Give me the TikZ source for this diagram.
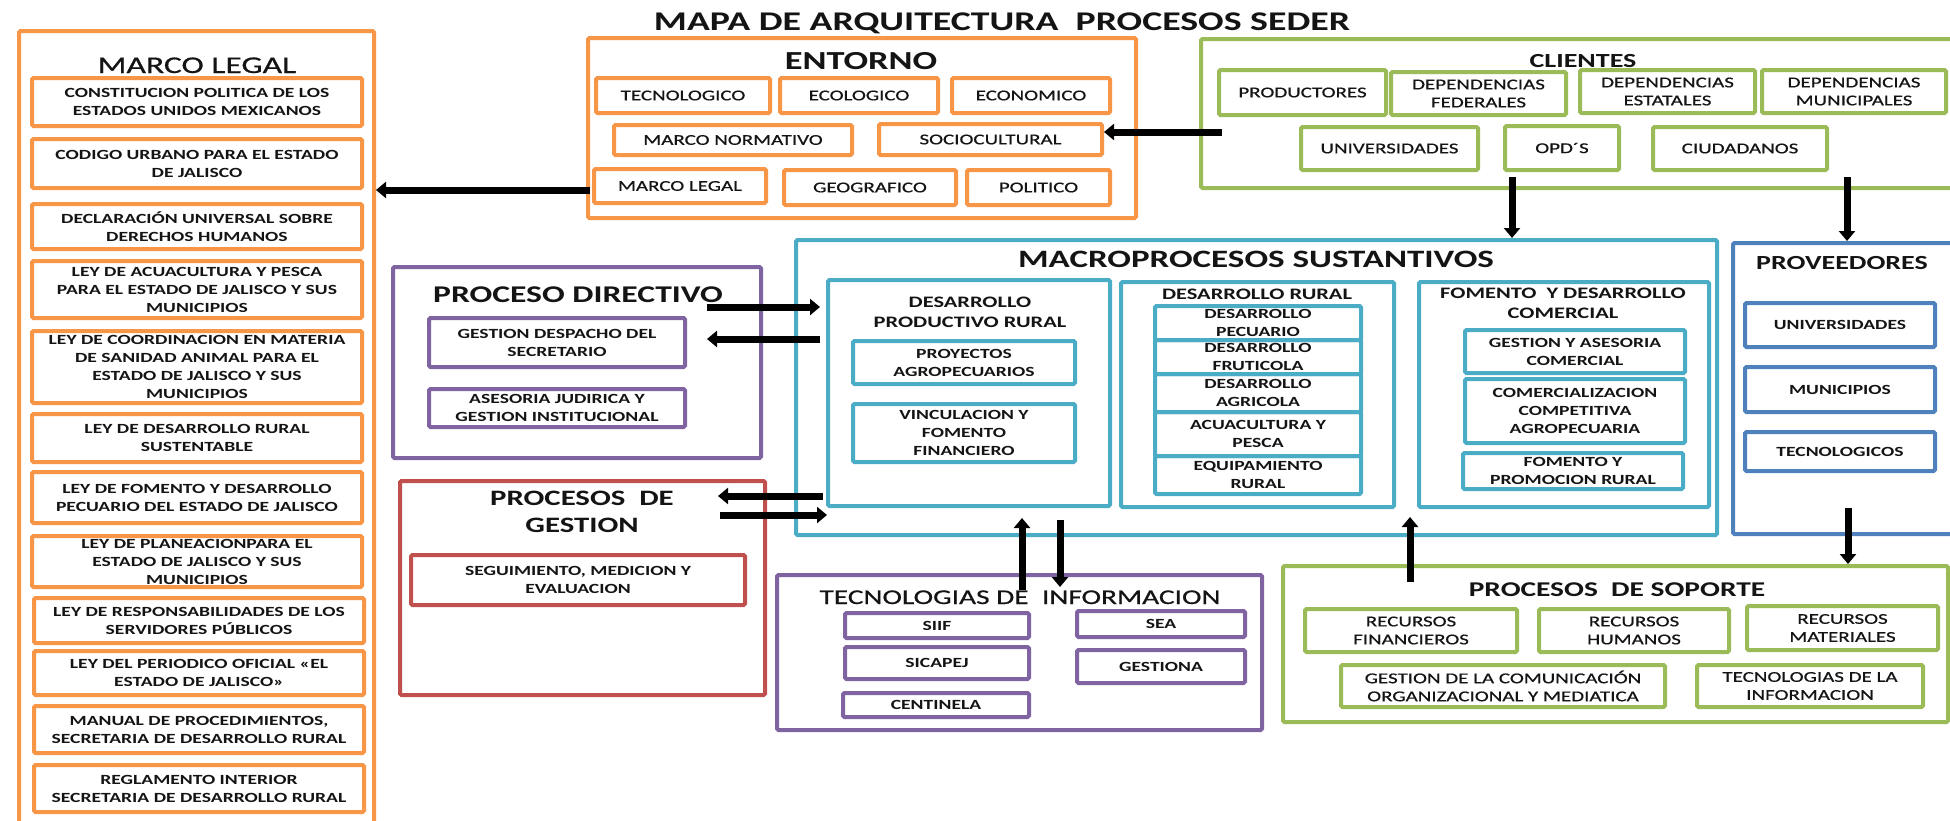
\documentclass[tikz,border=0pt]{standalone}
\usepackage{fontspec}
\setmainfont{Carlito}[FakeStretch=1.4]
\newfontfamily\medf{Carlito}[FakeStretch=1.4,FakeBold=0.6]
\usetikzlibrary{arrows.meta}
\definecolor{cOr}{HTML}{F79646}
\definecolor{cGr}{HTML}{9BBB59}
\definecolor{cTe}{HTML}{4BACC6}
\definecolor{cPu}{HTML}{8064A2}
\definecolor{cRe}{HTML}{C0504D}
\definecolor{cBl}{HTML}{4F81BD}
\definecolor{cTx}{HTML}{141414}
\newcommand\bx[7]{\node[#2, minimum width={#5-#3}, minimum height={#6-#4}] (#1) at ({(#3+#5)/2},{(#4+#6)/2}) {#7};}
\tikzset{
  box/.style={draw=#1, line width=4pt, inner sep=0pt, align=center, rounded corners=1.5pt, text=cTx, font=\medf\fontsize{15}{18}\selectfont},
  boxb/.style={box=#1, font=\fontsize{14}{18}\selectfont\bfseries},
  cont/.style={draw=#1, line width=4pt, inner sep=0pt, rounded corners=1.5pt},
  ttl/.style={inner sep=0pt, align=center, text=cTx},
  arr/.style={line width=7pt, draw=black, -{Triangle[length=10pt,width=16pt]}},
}
\begin{document}
\begin{tikzpicture}[x=1pt,y=-1pt]
\fill[white] (0,0) rectangle (1950,820);
\useasboundingbox (0,0) rectangle (1950,820);

% title
\node[ttl, font=\fontsize{27}{32}\selectfont\bfseries, anchor=base] (title) at (1002,30) {MAPA DE ARQUITECTURA\ \ PROCESOS SEDER};

% MARCO LEGAL
\bx{mlbox}{cont=cOr}{19}{31}{374}{840}{}
\node[ttl, font=\medf\fontsize{24}{28}\selectfont, anchor=base] (mlt) at (197,73) {MARCO LEGAL};
\bx{ml1}{boxb=cOr}{32}{78}{362}{126}{CONSTITUCION POLITICA DE LOS\\ESTADOS UNIDOS MEXICANOS}
\bx{ml2}{boxb=cOr}{32}{139}{362}{188}{CODIGO URBANO PARA EL ESTADO\\DE JALISCO}
\bx{ml3}{boxb=cOr}{32}{204}{362}{249}{DECLARACIÓN UNIVERSAL SOBRE\\DERECHOS HUMANOS}
\bx{ml4}{boxb=cOr}{32}{261}{362}{318}{LEY DE ACUACULTURA Y PESCA\\PARA EL ESTADO DE JALISCO Y SUS\\MUNICIPIOS}
\bx{ml5}{boxb=cOr}{32}{331}{362}{403}{LEY DE COORDINACION EN MATERIA\\DE SANIDAD ANIMAL PARA EL\\ESTADO DE JALISCO Y SUS\\MUNICIPIOS}
\bx{ml6}{boxb=cOr}{32}{414}{362}{462}{LEY DE DESARROLLO RURAL\\SUSTENTABLE}
\bx{ml7}{boxb=cOr}{32}{472}{362}{523}{LEY DE FOMENTO Y DESARROLLO\\PECUARIO DEL ESTADO DE JALISCO}
\bx{ml8}{boxb=cOr}{32}{536}{362}{587}{LEY DE PLANEACIONPARA EL\\ESTADO DE JALISCO Y SUS\\MUNICIPIOS}
\bx{ml9}{boxb=cOr}{34}{598}{364}{643}{LEY DE RESPONSABILIDADES DE LOS\\SERVIDORES PÚBLICOS}
\bx{ml10}{boxb=cOr}{34}{651}{364}{695}{LEY DEL PERIODICO OFICIAL «EL\\ESTADO DE JALISCO»}
\bx{ml11}{boxb=cOr}{34}{706}{364}{753}{MANUAL DE PROCEDIMIENTOS,\\SECRETARIA DE DESARROLLO RURAL}
\bx{ml12}{boxb=cOr}{34}{765}{364}{812}{REGLAMENTO INTERIOR\\SECRETARIA DE DESARROLLO RURAL}

% ENTORNO
\bx{ent}{cont=cOr}{588}{38}{1136}{218}{}
\node[ttl, font=\fontsize{26}{30}\selectfont\bfseries, anchor=base] (entt) at (861,69) {ENTORNO};
\bx{etec}{box=cOr}{596}{78}{770}{113}{TECNOLOGICO}
\bx{eeco}{box=cOr}{780}{78}{938}{113}{ECOLOGICO}
\bx{eecon}{box=cOr}{952}{78}{1110}{113}{ECONOMICO}
\bx{emn}{box=cOr}{614}{125}{852}{155}{MARCO NORMATIVO}
\bx{esoc}{box=cOr}{879}{124}{1102}{155}{SOCIOCULTURAL}
\bx{eml}{box=cOr}{594}{169}{766}{203}{MARCO LEGAL}
\bx{egeo}{box=cOr}{784}{170}{956}{205}{GEOGRAFICO}
\bx{epol}{box=cOr}{967}{170}{1110}{205}{POLITICO}

% CLIENTES
\bx{cli}{cont=cGr}{1201}{39}{1965}{188}{}
\node[ttl, font=\fontsize{20}{24}\selectfont\bfseries, anchor=base] (clit) at (1583,67) {CLIENTES};
\bx{c1}{box=cGr}{1219}{70}{1386}{115}{PRODUCTORES}
\bx{c2}{box=cGr}{1391}{72}{1566}{115}{DEPENDENCIAS\\FEDERALES}
\bx{c3}{box=cGr}{1580}{70}{1755}{113}{DEPENDENCIAS\\ESTATALES}
\bx{c4}{box=cGr}{1762}{70}{1946}{113}{DEPENDENCIAS\\MUNICIPALES}
\bx{c5}{box=cGr}{1301}{127}{1478}{170}{UNIVERSIDADES}
\bx{c6}{box=cGr}{1505}{126}{1619}{170}{OPD´S}
\bx{c7}{box=cGr}{1653}{127}{1827}{170}{CIUDADANOS}

% PROCESO DIRECTIVO
\bx{pd}{cont=cPu}{393}{267}{761}{458}{}
\node[ttl, font=\fontsize{24}{28}\selectfont\bfseries, anchor=base] (pdt) at (578,302) {PROCESO DIRECTIVO};
\bx{pd1}{boxb=cPu}{429}{318}{685}{367}{GESTION DESPACHO DEL\\SECRETARIO}
\bx{pd2}{boxb=cPu}{429}{389}{685}{427}{ASESORIA JUDIRICA Y\\GESTION INSTITUCIONAL}

% PROCESOS DE GESTION
\bx{pg}{cont=cRe}{400}{481}{765}{695}{}
\node[ttl, font=\fontsize{22}{27}\selectfont\bfseries] (pgt) at (582,512) {PROCESOS\ \ DE\\GESTION};
\bx{pg1}{boxb=cRe}{411}{555}{745}{605}{SEGUIMIENTO, MEDICION Y\\EVALUACION}

% MACROPROCESOS
\bx{macro}{cont=cTe}{796}{240}{1717}{535}{}
\node[ttl, font=\fontsize{25}{30}\selectfont\bfseries, anchor=base] (macrot) at (1256,267) {MACROPROCESOS SUSTANTIVOS};
\bx{dpr}{cont=cTe}{828}{280}{1110}{506}{}
\node[ttl, font=\fontsize{16}{20}\selectfont\bfseries] (dprt) at (970,312) {DESARROLLO\\PRODUCTIVO RURAL};
\bx{dpr1}{boxb=cTe}{853}{341}{1075}{384}{PROYECTOS\\AGROPECUARIOS}
\bx{dpr2}{boxb=cTe}{853}{404}{1075}{462}{VINCULACION Y\\FOMENTO\\FINANCIERO}
\bx{dr}{cont=cTe}{1121}{282}{1394}{507}{}
\node[ttl, font=\fontsize{16}{20}\selectfont\bfseries, anchor=base] (drt) at (1257,299) {DESARROLLO RURAL};
\bx{dr1}{boxb=cTe}{1155}{306}{1361}{340}{DESARROLLO\\PECUARIO}
\bx{dr2}{boxb=cTe}{1155}{340}{1361}{374}{DESARROLLO\\FRUTICOLA}
\bx{dr3}{boxb=cTe}{1155}{374}{1361}{412}{DESARROLLO\\AGRICOLA}
\bx{dr4}{boxb=cTe}{1155}{412}{1361}{456}{ACUACULTURA Y\\PESCA}
\bx{dr5}{boxb=cTe}{1155}{456}{1361}{494}{EQUIPAMIENTO\\RURAL}
\bx{fdc}{cont=cTe}{1419}{282}{1709}{507}{}
\node[ttl, font=\fontsize{16}{20}\selectfont\bfseries] (fdct) at (1563,303) {FOMENTO\ \ Y DESARROLLO\\COMERCIAL};
\bx{fdc1}{boxb=cTe}{1465}{330}{1685}{373}{GESTION Y ASESORIA\\COMERCIAL}
\bx{fdc2}{boxb=cTe}{1465}{379}{1685}{443}{COMERCIALIZACION\\COMPETITIVA\\AGROPECUARIA}
\bx{fdc3}{boxb=cTe}{1463}{453}{1683}{489}{FOMENTO Y\\PROMOCION RURAL}

% PROVEEDORES
\bx{prov}{cont=cBl}{1733}{243}{1965}{534}{}
\node[ttl, font=\fontsize{20}{24}\selectfont\bfseries, anchor=base] (provt) at (1842,269) {PROVEEDORES};
\bx{pv1}{boxb=cBl}{1745}{303}{1935}{347}{UNIVERSIDADES}
\bx{pv2}{boxb=cBl}{1745}{367}{1935}{412}{MUNICIPIOS}
\bx{pv3}{boxb=cBl}{1745}{432}{1935}{471}{TECNOLOGICOS}

% TECNOLOGIAS DE INFORMACION
\bx{ti}{cont=cPu}{777}{575}{1262}{730}{}
\node[ttl, font=\medf\fontsize{21}{25}\selectfont, anchor=base] (tit) at (1020,604) {TECNOLOGIAS DE\ \ INFORMACION};
\bx{ti1}{boxb=cPu}{845}{613}{1029}{638}{SIIF}
\bx{ti2}{boxb=cPu}{845}{647}{1029}{679}{SICAPEJ}
\bx{ti3}{boxb=cPu}{843}{693}{1029}{717}{CENTINELA}
\bx{ti4}{boxb=cPu}{1077}{611}{1245}{637}{SEA}
\bx{ti5}{boxb=cPu}{1077}{650}{1245}{683}{GESTIONA}

% PROCESOS DE SOPORTE
\bx{sop}{cont=cGr}{1283}{566}{1948}{722}{}
\node[ttl, font=\fontsize{21}{25}\selectfont\bfseries, anchor=base] (sopt) at (1617,596) {PROCESOS\ \ DE SOPORTE};
\bx{s1}{box=cGr}{1305}{609}{1517}{652}{RECURSOS\\FINANCIEROS}
\bx{s2}{box=cGr}{1539}{609}{1729}{652}{RECURSOS\\HUMANOS}
\bx{s3}{box=cGr}{1747}{606}{1938}{650}{RECURSOS\\MATERIALES}
\bx{s4}{box=cGr}{1341}{665}{1665}{707}{GESTION DE LA COMUNICACIÓN\\ORGANIZACIONAL Y MEDIATICA}
\bx{s5}{box=cGr}{1697}{665}{1923}{707}{TECNOLOGIAS DE LA\\INFORMACION}

% connectors
\coordinate (a1s) at (590,190);
\draw[arr] (a1s) -- (mlbox.east |- a1s);
\coordinate (a2s) at (1222,132);
\draw[arr] (a2s) -- (esoc.east |- a2s);
\coordinate (a3s) at (1512,177);
\draw[arr] (a3s) -- (a3s |- macro.north);
\coordinate (a4s) at (1847,177);
\draw[arr] (a4s) -- (a4s |- prov.north);
\coordinate (a5s) at (707,307); \coordinate (a5e) at (820,307);
\draw[arr] (a5s) -- (a5e);
\coordinate (a6s) at (820,339); \coordinate (a6e) at (707,339);
\draw[arr] (a6s) -- (a6e);
\coordinate (a7s) at (823,496); \coordinate (a7e) at (718,496);
\draw[arr] (a7s) -- (a7e);
\coordinate (a8s) at (720,515); \coordinate (a8e) at (827,515);
\draw[arr] (a8s) -- (a8e);
\coordinate (a9s) at (1022,590); \coordinate (a9e) at (1022,518);
\draw[arr] (a9s) -- (a9e);
\coordinate (a10s) at (1060,520); \coordinate (a10e) at (1060,587);
\draw[arr] (a10s) -- (a10e);
\coordinate (a11s) at (1410,582); \coordinate (a11e) at (1410,517);
\draw[arr] (a11s) -- (a11e);
\coordinate (a12s) at (1848,508);
\draw[arr] (a12s) -- (a12s |- sop.north);
\end{tikzpicture}
\end{document}
